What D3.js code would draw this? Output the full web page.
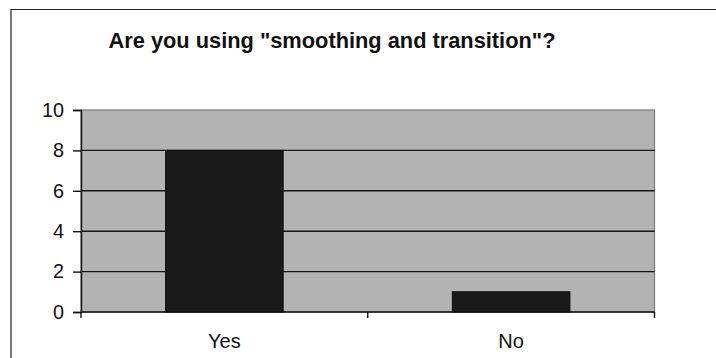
<!DOCTYPE html>
<html>
<head>
<meta charset="utf-8">
<script src="https://cdn.jsdelivr.net/npm/d3@7"></script>
<style>
  html, body { margin: 0; padding: 0; background: #ffffff; }
  svg { display: block; }
  text { font-family: "Liberation Sans", Arial, sans-serif; fill: #111; }
</style>
</head>
<body>
<div id="chart"></div>
<script>
// Survey answers
const categories = ["Yes", "No"];
const counts = [8, 1];
const yTicks = [0, 2, 4, 6, 8, 10];
const titleText = 'Are you using "smoothing and transition"?';

const width = 716, height = 358;
const plot = { left: 81, right: 654.5, top: 110, bottom: 312 };

const svg = d3.select("#chart").append("svg")
  .attr("width", width)
  .attr("height", height);

// Outer chart frame (top and left edges)
svg.append("path")
  .attr("d", `M11,${height} L11,9.5 L${width},9.5`)
  .attr("fill", "none")
  .attr("stroke", "#222")
  .attr("stroke-width", 1.2);

// Title
svg.append("text")
  .attr("x", 332)
  .attr("y", 48)
  .attr("text-anchor", "middle")
  .style("font-size", "21.8px")
  .style("font-weight", "bold")
  .text(titleText);

const x = d3.scaleBand()
  .domain(categories)
  .range([plot.left, plot.right])
  .paddingInner(0.59)
  .paddingOuter(0.295);

const y = d3.scaleLinear()
  .domain([0, 10])
  .range([plot.bottom, plot.top]);

// Plot area background
svg.append("rect")
  .attr("x", plot.left)
  .attr("y", plot.top)
  .attr("width", plot.right - plot.left)
  .attr("height", plot.bottom - plot.top)
  .attr("fill", "#b3b3b3")
  .attr("stroke", "#7a7a7a")
  .attr("stroke-width", 1.2);

// Horizontal gridlines
svg.append("g")
  .selectAll("line")
  .data(yTicks.filter(d => d > 0 && d < 10))
  .join("line")
  .attr("x1", plot.left)
  .attr("x2", plot.right)
  .attr("y1", d => y(d))
  .attr("y2", d => y(d))
  .attr("stroke", "#151515")
  .attr("stroke-width", 1.4);

// Bars
svg.append("g")
  .selectAll("rect")
  .data(categories.map((c, i) => ({ c, v: counts[i] })))
  .join("rect")
  .attr("x", d => x(d.c))
  .attr("y", d => y(d.v))
  .attr("width", x.bandwidth())
  .attr("height", d => y(0) - y(d.v))
  .attr("fill", "#1a1a1a")
  .attr("stroke", "#0d0d0d")
  .attr("stroke-width", 1);

// Y axis
const yAxis = d3.axisLeft(y)
  .tickValues(yTicks)
  .tickSize(8)
  .tickPadding(9)
  .tickFormat(d3.format("d"));

const gy = svg.append("g")
  .attr("transform", `translate(${plot.left},0)`)
  .call(yAxis);
gy.select(".domain").attr("stroke", "#111").attr("stroke-width", 1.4);
gy.selectAll(".tick line").attr("stroke", "#111").attr("stroke-width", 1.4);
gy.selectAll(".tick text")
  .style("font-size", "19.8px")
  .style("font-family", '"Liberation Sans", Arial, sans-serif')
  .attr("fill", "#111");

// X axis: category ticks sit on band boundaries
const xEdge = d3.scalePoint()
  .domain(d3.range(categories.length + 1))
  .range([plot.left, plot.right]);

const gx = svg.append("g").attr("transform", `translate(0,${plot.bottom})`);
gx.append("line")
  .attr("x1", plot.left).attr("x2", plot.right)
  .attr("stroke", "#111").attr("stroke-width", 1.4);
gx.selectAll("line.tk")
  .data(xEdge.domain())
  .join("line")
  .attr("class", "tk")
  .attr("x1", d => xEdge(d)).attr("x2", d => xEdge(d))
  .attr("y1", 0).attr("y2", 6)
  .attr("stroke", "#111").attr("stroke-width", 1.4);
gx.selectAll("text")
  .data(categories)
  .join("text")
  .attr("x", d => x(d) + x.bandwidth() / 2)
  .attr("y", 36)
  .attr("text-anchor", "middle")
  .style("font-size", "20px")
  .text(d => d);
</script>
</body>
</html>
